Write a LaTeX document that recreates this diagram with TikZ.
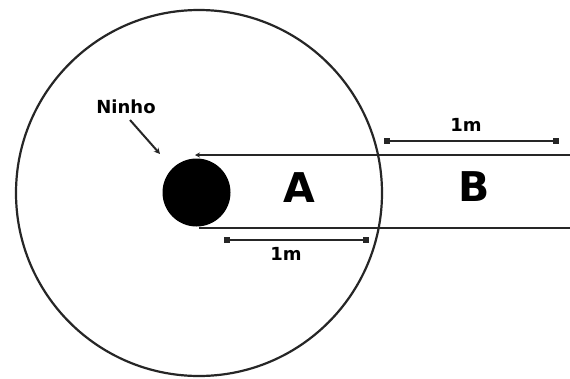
\documentclass[tikz,border=0pt]{standalone}
\usepackage{fontspec}
\setmainfont{DejaVu Sans}
\usetikzlibrary{arrows.meta}
\begin{document}
\begin{tikzpicture}[x=1pt,y=-1pt,
  line/.style={line width=2.2pt,black!85},
  dimline/.style={line width=2.2pt,black!85,{Square[length=6pt,width=6pt]}-{Square[length=6pt,width=6pt]}},
  small/.style={font=\bfseries\fontsize{18}{20}\selectfont,inner sep=0pt},
  big/.style={font=\bfseries\fontsize{41}{44}\selectfont,inner sep=0pt}]
\useasboundingbox (0,0) rectangle (570,378);
\fill[white] (0,0) rectangle (570,378);
% big circle
\node[circle,draw,line width=2.2pt,black!85,minimum size=366pt,inner sep=0pt] (area) at (199,193) {};
% channel lines
\coordinate (tl) at (195,155);
\coordinate (tr) at (570,155);
\coordinate (bl) at (199,228);
\coordinate (br) at (570,228);
\draw[line,{Stealth[length=5pt,width=5pt]}-] (tl) -- (tr);
\draw[line] (bl) -- (br);
% nest
\node[circle,fill=black,minimum size=68pt,inner sep=0pt] (nest) at (196.5,192.5) {};
% dimension lines
\coordinate (a1) at (224,240);
\coordinate (a2) at (369,240);
\draw[dimline] (a1) -- (a2);
\coordinate (b1) at (384,141);
\coordinate (b2) at (559,141);
\draw[dimline] (b1) -- (b2);
\node[small] (la) at (286,254) {1m};
\node[small] (lb) at (466,125) {1m};
% labels
\node[big] (A) at (299,188) {A};
\node[big] (B) at (474,187) {B};
\node[small] (ninho) at (126,107) {Ninho};
\coordinate (nt) at (160,154);
\draw[line width=2pt,black!85,-{Stealth[length=6pt,width=6pt]}] (130,120) -- (nt);
\end{tikzpicture}
\end{document}
